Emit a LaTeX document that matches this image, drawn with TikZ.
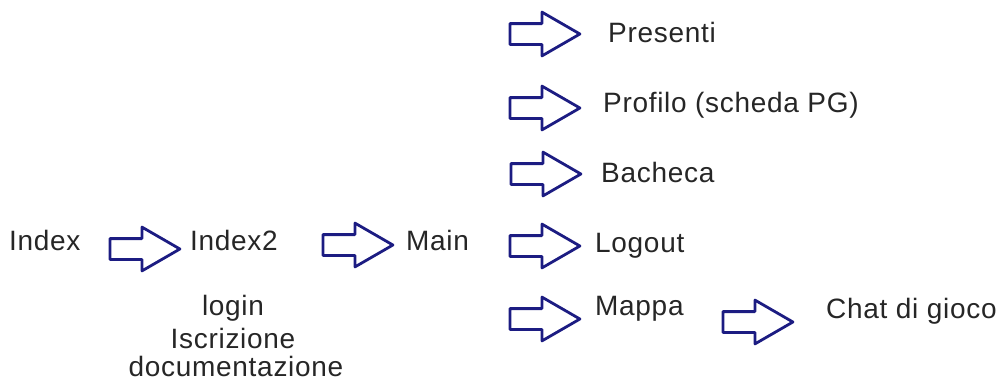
\documentclass[tikz,border=0pt]{standalone}
\usepackage{fontspec}
\setmainfont[LetterSpace=2.5]{Liberation Sans}
\usetikzlibrary{shapes.arrows}
\definecolor{navy}{HTML}{1C1C82}
\tikzset{
  lbl/.style={anchor=base west, inner sep=0pt, font=\fontsize{28}{30}\selectfont, text=black!85},
  clbl/.style={lbl, anchor=base},
  barrow/.style={single arrow, anchor=tail, draw=navy, line width=2.8pt, line join=round,
    minimum height=70pt, minimum width=41pt, inner xsep=0pt, inner ysep=9pt,
    single arrow head extend=11.5pt, single arrow tip angle=60}
}
\begin{document}
\begin{tikzpicture}[x=1pt,y=-1pt]
\useasboundingbox (0,0) rectangle (1007,381);
% labels
\node[lbl] (index) at (9,250) {Index};
\node[lbl] (index2) at (190,250) {Index2};
\node[lbl] (main) at (406,250) {Main};
\node[clbl] (login) at (233,315) {login};
\node[clbl] (iscr) at (233,348) {Iscrizione};
\node[clbl] (doc) at (236,376) {documentazione};
\node[lbl] (presenti) at (608,42) {Presenti};
\node[lbl] (profilo) at (603,112) {Profilo (scheda PG)};
\node[lbl] (bacheca) at (601,182) {Bacheca};
\node[lbl] (logout) at (595,252) {Logout};
\node[lbl] (mappa) at (595,315) {Mappa};
\node[lbl] (chat) at (826,318) {Chat di gioco};
% block arrows
\node[barrow] (a1) at (108.5,249) {};
\node[barrow] (a2) at (321.5,245) {};
\node[barrow] (a3) at (508.5,34) {};
\node[barrow] (a4) at (508.5,108) {};
\node[barrow] (a5) at (509.5,174) {};
\node[barrow] (a6) at (508.5,246) {};
\node[barrow] (a7) at (508.5,319) {};
\node[barrow] (a8) at (721.5,322) {};
\end{tikzpicture}
\end{document}
